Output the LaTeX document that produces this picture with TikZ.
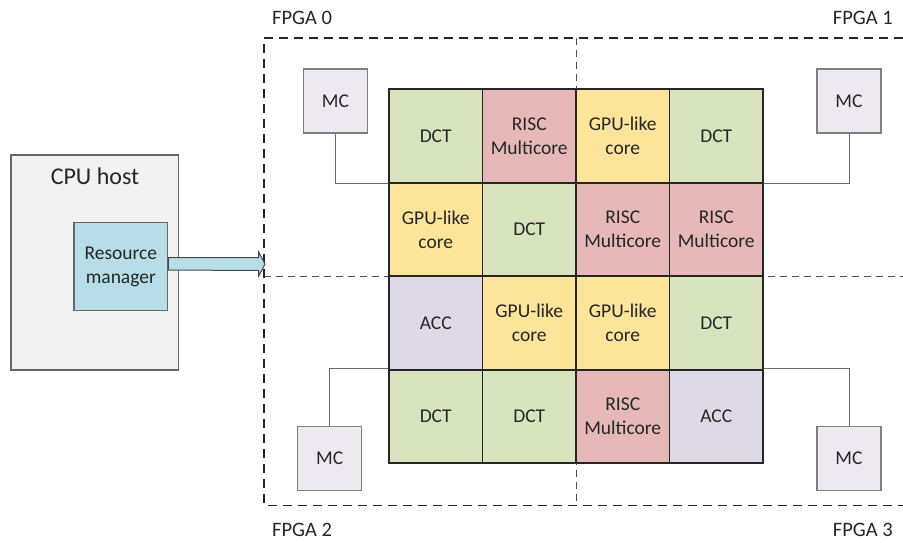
\documentclass[tikz,border=0pt]{standalone}
\usepackage{fontspec}
\setmainfont{Carlito}
\usetikzlibrary{calc}
\definecolor{txt}{HTML}{262626}
\definecolor{dctc}{HTML}{D7E4BD}
\definecolor{riscc}{HTML}{E6B9B8}
\definecolor{gpuc}{HTML}{FCE49A}
\definecolor{accc}{HTML}{DDD9E7}
\definecolor{mcc}{HTML}{EDE9F1}
\definecolor{hostc}{HTML}{F2F2F2}
\definecolor{rmc}{HTML}{B7DEE8}
\definecolor{edge}{HTML}{7F7F7F}
\begin{document}
\begin{tikzpicture}[x=1pt,y=-1pt,
  every node/.style={text=txt, font=\fontsize{19.5}{24}\selectfont},
  cell/.style={draw=txt, line width=1.8pt, minimum width=93.5pt, minimum height=93.5pt,
    inner sep=0pt, align=center},
  dct/.style={cell, fill=dctc},
  risc/.style={cell, fill=riscc},
  gpu/.style={cell, fill=gpuc},
  acc/.style={cell, fill=accc},
  mcbox/.style={draw=edge, line width=1.2pt, fill=mcc, minimum width=64pt, minimum height=64pt, inner sep=0pt},
  link/.style={draw=edge!85!black, line width=1pt},
  fpgaline/.style={draw=txt, line width=1.4pt, dash pattern=on 9pt off 6pt},
  fpgasplit/.style={draw=txt!80, line width=0.8pt, dash pattern=on 7pt off 5pt},
  lbl/.style={inner sep=0pt, font=\fontsize{20.5}{24}\selectfont}]
\useasboundingbox (0,0) rectangle (903,542);

% FPGA regions
\draw[fpgasplit] (576,38) -- (576,505.5);
\draw[fpgasplit] (264,276) -- (903,276);
\draw[fpgaline] (903,38) -- (264,38) -- (264,505.5) -- (903,505.5);
\coordinate (entry) at (265,264);

\node[lbl, anchor=west] (f0) at (272,18) {FPGA 0};
\node[lbl, anchor=east] (f1) at (893,18) {FPGA 1};
\node[lbl, anchor=west] (f2) at (272,530) {FPGA 2};
\node[lbl, anchor=east] (f3) at (893,530) {FPGA 3};

% CPU host with resource manager
\node[draw=edge!80!black, line width=1.2pt, fill=hostc, minimum width=167.3pt, minimum height=215pt] (host) at (94.65,262.5) {};
\node[font=\fontsize{24}{28}\selectfont, inner sep=0pt] (hostlbl) at (95,176.7) {CPU host};
\node[draw=edge!80!black, line width=1.2pt, fill=rmc, minimum width=93.7pt, minimum height=88pt, align=center, inner sep=0pt] (rm) at (120.85,266.7) {Resource\\manager};

% request arrow into the FPGA array
\coordinate (rmE) at (rm.east);
\draw[draw=txt!85, line width=1pt, fill=rmc, line join=miter]
  (rmE |- 0,257.5) -- ($(entry)+(-6.3,-6.5)$) -- ($(entry)+(-6.3,-12)$) -- (entry)
  -- ($(entry)+(-6.3,12)$) -- ($(entry)+(-6.3,6.5)$) -- (rmE |- 0,270) -- cycle;

% memory controllers
\node[mcbox] (mc0) at (335.5,101) {MC};
\node[mcbox] (mc1) at (849,101) {MC};
\node[mcbox] (mc2) at (329.7,458.3) {MC};
\node[mcbox] (mc3) at (849,458.3) {MC};

% 4x4 array of cores
\node[dct]  (c00) at (435.75,136.05) {DCT};
\node[risc] (c01) at (529.25,136.05) {RISC\\Multicore};
\node[gpu]  (c02) at (622.75,136.05) {GPU-like\\core};
\node[dct]  (c03) at (716.25,136.05) {DCT};

\node[gpu]  (c10) at (435.75,229.55) {GPU-like\\core};
\node[dct]  (c11) at (529.25,229.55) {DCT};
\node[risc] (c12) at (622.75,229.55) {RISC\\Multicore};
\node[risc] (c13) at (716.25,229.55) {RISC\\Multicore};

\node[acc]  (c20) at (435.75,323.05) {ACC};
\node[gpu]  (c21) at (529.25,323.05) {GPU-like\\core};
\node[gpu]  (c22) at (622.75,323.05) {GPU-like\\core};
\node[dct]  (c23) at (716.25,323.05) {DCT};

\node[dct]  (c30) at (435.75,416.55) {DCT};
\node[dct]  (c31) at (529.25,416.55) {DCT};
\node[risc] (c32) at (622.75,416.55) {RISC\\Multicore};
\node[acc]  (c33) at (716.25,416.55) {ACC};

% memory controller links
\draw[link] (mc0.south) |- (c00.south west);
\draw[link] (mc1.south) |- (c03.south east);
\draw[link] (mc2.north) |- (c30.north west);
\draw[link] (mc3.north) |- (c33.north east);
\end{tikzpicture}
\end{document}
